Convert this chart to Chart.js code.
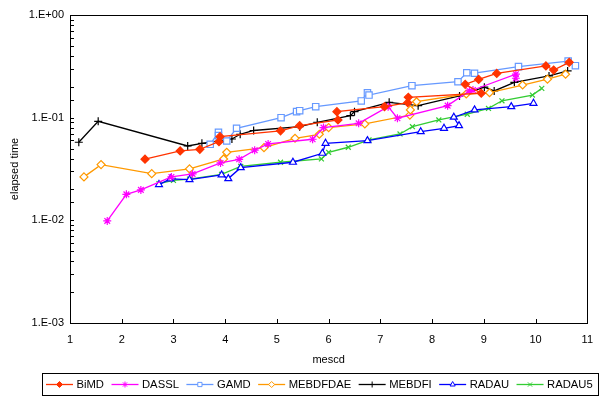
<!DOCTYPE html>
<html><head><meta charset="utf-8">
<script src="https://cdn.jsdelivr.net/npm/chart.js@4.4.0/dist/chart.umd.min.js"></script>
<style>html,body{margin:0;padding:0;background:#fff}canvas{display:block}</style>
</head><body>
<canvas id="c" width="603" height="410"></canvas>
<script>
// ---- data ----
const seriesNames = ['BiMD','DASSL','GAMD','MEBDFDAE','MEBDFI','RADAU','RADAU5'];
const bimdX = [2.45,3.13,3.51,3.88,3.9,5.07,5.44,6.18,6.16,7.08,7.53,7.54,8.95,8.64,8.9,9.25,10.2,10.35,10.65];
const bimdY = [0.0394,0.0474,0.0492,0.0584,0.0653,0.0745,0.0836,0.095,0.1145,0.128,0.14,0.158,0.173,0.211,0.236,0.27,0.319,0.291,0.346];
const dasslX = [1.72,2.09,2.37,2.96,3.37,3.91,4.27,4.57,4.83,5.69,5.9,6.58,7.15,7.33,8.3,8.72,8.79,9.62,9.62];
const dasslY = [0.00987,0.0179,0.0198,0.0265,0.0283,0.0362,0.0393,0.0482,0.0555,0.0616,0.08,0.088,0.128,0.0987,0.131,0.182,0.186,0.265,0.242];
const gamdX = [3.71,3.87,3.87,4.03,4.22,5.08,5.38,5.44,5.75,6.63,6.75,6.78,7.61,8.5,8.67,8.82,9.67,10.63,10.77];
const gamdY = [0.055,0.072,0.0668,0.0593,0.0788,0.1,0.1145,0.117,0.128,0.1455,0.175,0.166,0.205,0.224,0.274,0.271,0.314,0.356,0.321];
const mebdfdaeX = [1.27,1.6,2.58,3.31,3.97,4.03,4.75,5.35,5.82,6.0,6.7,7.57,7.58,7.7,8.66,9.11,9.75,10.23,10.58];
const mebdfdaeY = [0.0265,0.0349,0.0285,0.0317,0.0396,0.046,0.051,0.063,0.0689,0.08,0.0868,0.106,0.119,0.143,0.17,0.175,0.208,0.237,0.265];
const mebdfiX = [1.17,1.545,3.275,3.55,4.13,4.29,4.55,5.44,5.78,6.42,6.5,7.17,7.73,8.53,9.01,9.2,9.59,10.26,10.62];
const mebdfiY = [0.0576,0.0922,0.053,0.0563,0.062,0.0689,0.075,0.0817,0.0902,0.1046,0.1145,0.141,0.131,0.163,0.198,0.182,0.221,0.255,0.285];
const radauX = [2.72,2.94,3.31,3.93,4.06,4.3,5.31,5.88,5.94,6.75,7.78,8.23,8.52,8.42,8.82,9.53,9.96];
const radauY = [0.0223,0.0253,0.0249,0.0277,0.0255,0.0326,0.0368,0.045,0.0563,0.0597,0.073,0.0788,0.0836,0.101,0.119,0.128,0.138];
const radau5X = [2.72,3.0,3.31,3.93,4.3,5.07,5.86,6.0,6.38,6.78,7.38,7.62,8.13,8.68,9.09,9.35,9.94,10.12];
const radau5Y = [0.0228,0.0245,0.0252,0.028,0.0335,0.0368,0.0396,0.046,0.0515,0.0607,0.0694,0.0817,0.095,0.108,0.123,0.146,0.166,0.193];
const xTickValues = [1,2,3,4,5,6,7,8,9,10,11];
const yTickLabels = ['1.E-03','1.E-02','1.E-01','1.E+00'];

// ---- styles ----
const styles = [
  {color:'#FF3300', point:'rectRot', r:4, fill:'#FF3300'},
  {color:'#FF00FF', point:'star', r:4, fill:'#FF00FF'},
  {color:'#6699FF', point:'rect', r:4.5, fill:'#FFFFFF'},
  {color:'#FF9900', point:'rectRot', r:4, fill:'#FFFFFF'},
  {color:'#000000', point:'cross', r:4, fill:'#000000'},
  {color:'#0000FF', point:'triangle', r:4, fill:'#FFFFFF'},
  {color:'#33CC33', point:'crossRot', r:3.5, fill:'#33CC33'}
];
const xs = [bimdX,dasslX,gamdX,mebdfdaeX,mebdfiX,radauX,radau5X];
const ys = [bimdY,dasslY,gamdY,mebdfdaeY,mebdfiY,radauY,radau5Y];

const datasets = seriesNames.map((n,i)=>({
  label:n,
  data: xs[i].map((x,j)=>({x:x,y:ys[i][j]})),
  showLine:true,
  borderColor:styles[i].color,
  backgroundColor:styles[i].fill,
  borderWidth:1.3,
  pointStyle:styles[i].point,
  pointRadius:styles[i].r,
  pointBorderWidth:1.2,
  pointBackgroundColor:styles[i].fill,
  pointBorderColor:styles[i].color
}));

const FONT = 'Liberation Sans, Arial, sans-serif';

const decoPlugin = {
  id:'deco',
  afterDraw(chart){
    const {ctx, chartArea:a, scales:{x,y}} = chart;
    ctx.save();
    ctx.strokeStyle='#000'; ctx.lineWidth=1;
    ctx.beginPath();
    x.ticks.forEach(t=>{const px=Math.round(x.getPixelForValue(t.value))+0.5; ctx.moveTo(px,a.bottom); ctx.lineTo(px,a.bottom-4);});
    y.ticks.forEach(t=>{const py=Math.round(y.getPixelForValue(t.value))+0.5; ctx.moveTo(a.left,py); ctx.lineTo(a.left+4,py);});
    ctx.stroke();
    ctx.strokeRect(Math.round(a.left)+0.5, Math.round(a.top)+0.5, Math.round(a.width), Math.round(a.height));
    // legend
    const bx=42, by=373, bw=556, bh=22;
    ctx.strokeRect(bx+0.5,by+0.5,bw,bh);
    ctx.font = '11.25px '+FONT;
    ctx.textBaseline='middle'; ctx.textAlign='left'; ctx.fillStyle='#000';
    let cx = bx+4;
    const cy = by+bh/2+0.5;
    chart.data.datasets.forEach((d,i)=>{
      ctx.strokeStyle=d.borderColor; ctx.lineWidth=1.3;
      ctx.beginPath(); ctx.moveTo(cx,cy); ctx.lineTo(cx+27,cy); ctx.stroke();
      ctx.fillStyle=d.pointBackgroundColor; ctx.strokeStyle=d.pointBorderColor; ctx.lineWidth=1;
      Chart.helpers.drawPoint(ctx,{pointStyle:d.pointStyle,radius:3,rotation:0,borderWidth:1}, cx+13.5, cy);
      ctx.fillStyle='#000';
      ctx.fillText(d.label, cx+30.5, cy);
      cx += 30.5 + ctx.measureText(d.label).width + 7.5;
    });
    ctx.restore();
  }
};

new Chart(document.getElementById('c'), {
  type:'scatter',
  data:{datasets},
  options:{
    responsive:false, animation:false,
    layout:{padding:{top:15,right:13,left:0,bottom:42}},
    plugins:{legend:{display:false}, tooltip:{enabled:false}},
    scales:{
      x:{
        type:'linear', min:1, max:11,
        afterBuildTicks: s=>{ s.ticks = xTickValues.map(v=>({value:v})); },
        ticks:{font:{family:FONT,size:11}, color:'#000', padding:10, maxRotation:0, autoSkip:false},
        grid:{display:false, drawTicks:false}, border:{display:false},
        title:{display:true, text:'mescd', font:{family:FONT,size:11}, color:'#000', padding:{top:0,bottom:1}},
        afterFit: s=>{ s.height=45; }
      },
      y:{
        type:'logarithmic', min:0.001, max:1,
        ticks:{font:{family:FONT,size:11}, color:'#000', padding:6, autoSkip:false,
          callback:(v)=>{ const l=Math.log10(v); const r=Math.round(l); if(Math.abs(l-r)>1e-6) return ''; return yTickLabels[r+3]; }},
        grid:{display:false, drawTicks:false}, border:{display:false},
        title:{display:true, text:'elapsed time', font:{family:FONT,size:11}, color:'#000', padding:{top:8,bottom:0}},
        afterFit: s=>{ s.width=70; }
      }
    }
  },
  plugins:[decoPlugin]
});
</script>
</body></html>
